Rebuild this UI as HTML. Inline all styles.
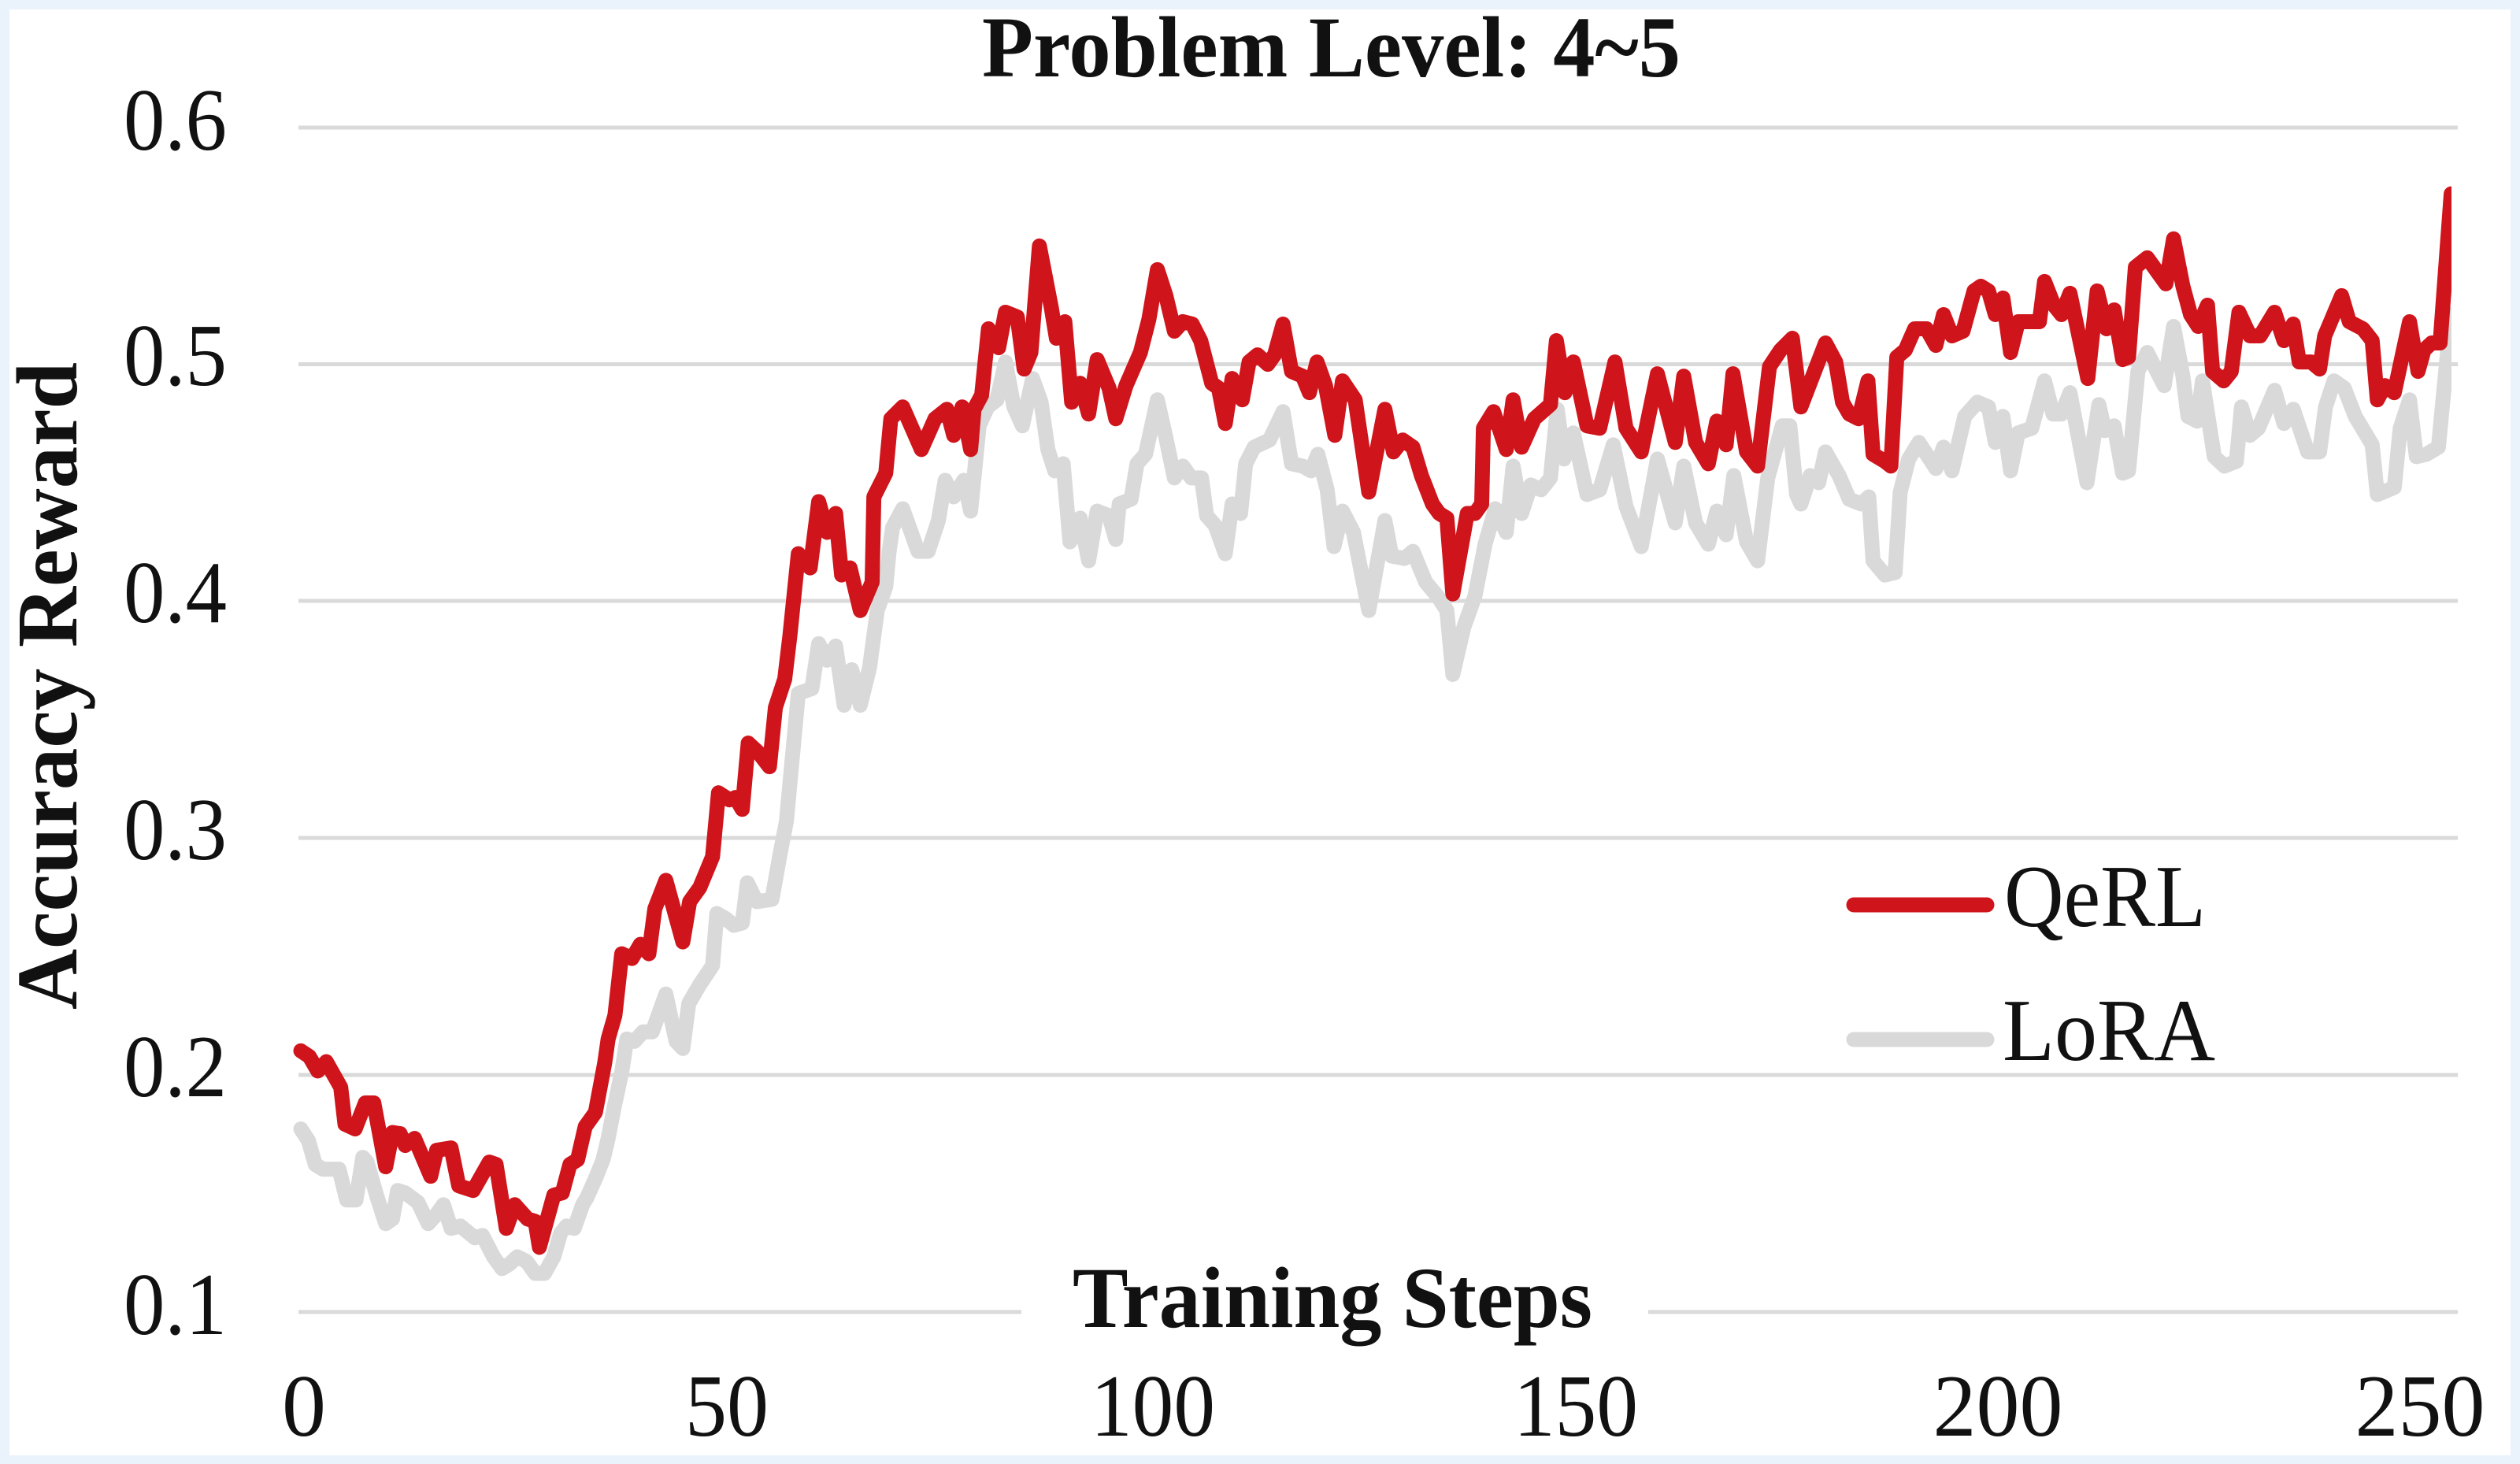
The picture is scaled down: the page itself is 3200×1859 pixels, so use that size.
<!DOCTYPE html>
<html>
<head>
<meta charset="utf-8">
<style>
  html, body { margin: 0; padding: 0; background: #eaf2fc; }
  body { width: 3200px; height: 1859px; overflow: hidden; }
  svg { display: block; }
  text { font-family: "Liberation Serif", "Times New Roman", serif; fill: #111; }
</style>
</head>
<body>
<svg width="3200" height="1859" viewBox="0 0 3200 1859" xmlns="http://www.w3.org/2000/svg">
  <defs>
    <clipPath id="plotclip">
      <rect x="0" y="0" width="3113" height="1859"/>
    </clipPath>
  </defs>
  <!-- frame -->
  <rect x="0" y="0" width="3200" height="1859" fill="#eaf2fc"/>
  <rect x="12" y="12" width="3176" height="1836" fill="#ffffff"/>

  <!-- gridlines -->
  <g stroke="#dadada" stroke-width="5" fill="none">
    <line x1="379" y1="162" x2="3121" y2="162"/>
    <line x1="379" y1="462.5" x2="3121" y2="462.5"/>
    <line x1="379" y1="763" x2="3121" y2="763"/>
    <line x1="379" y1="1064" x2="3121" y2="1064"/>
    <line x1="379" y1="1365" x2="3121" y2="1365"/>
    <line x1="379" y1="1666" x2="1297" y2="1666"/>
    <line x1="2093" y1="1666" x2="3121" y2="1666"/>
  </g>

  <!-- title -->
  <text x="1247" y="97" font-size="110" font-weight="bold" textLength="887" lengthAdjust="spacingAndGlyphs">Problem Level: 4~5</text>

  <!-- y axis label -->
  <text transform="translate(97 871) rotate(-90)" text-anchor="middle" font-size="110" font-weight="bold" textLength="822" lengthAdjust="spacingAndGlyphs">Accuracy Reward</text>

  <!-- y tick labels -->
  <g font-size="112">
    <text x="157" y="190" textLength="131" lengthAdjust="spacingAndGlyphs">0.6</text>
    <text x="157" y="489" textLength="131" lengthAdjust="spacingAndGlyphs">0.5</text>
    <text x="157" y="790" textLength="131" lengthAdjust="spacingAndGlyphs">0.4</text>
    <text x="157" y="1091" textLength="131" lengthAdjust="spacingAndGlyphs">0.3</text>
    <text x="157" y="1392" textLength="131" lengthAdjust="spacingAndGlyphs">0.2</text>
    <text x="157" y="1694" textLength="131" lengthAdjust="spacingAndGlyphs">0.1</text>
  </g>

  <!-- x tick labels -->
  <g font-size="112" text-anchor="middle">
    <text x="386" y="1823">0</text>
    <text x="923" y="1823" textLength="106" lengthAdjust="spacingAndGlyphs">50</text>
    <text x="1464" y="1823" textLength="158" lengthAdjust="spacingAndGlyphs">100</text>
    <text x="2001" y="1823" textLength="158" lengthAdjust="spacingAndGlyphs">150</text>
    <text x="2537" y="1823" textLength="165" lengthAdjust="spacingAndGlyphs">200</text>
    <text x="3073" y="1823" textLength="165" lengthAdjust="spacingAndGlyphs">250</text>
  </g>

  <!-- x axis label -->
  <text x="1692" y="1685" text-anchor="middle" font-size="110" font-weight="bold" textLength="660" lengthAdjust="spacingAndGlyphs">Training Steps</text>

  <!-- series -->
  <g clip-path="url(#plotclip)">
    <g transform="translate(382 1965.6) scale(10.78 -3006)">
      <polyline fill="none" stroke="#d9d9d9" stroke-width="19" vector-effect="non-scaling-stroke" stroke-linejoin="round" stroke-linecap="round"
        points="0,0.177 0.9,0.172 1.7,0.162 2.6,0.160 4.5,0.160 5.4,0.147 6.5,0.147 7.3,0.165 7.8,0.163 9,0.148 10,0.137 10.8,0.139 11.4,0.151 12.3,0.150 13.8,0.146 15,0.137 16,0.141 16.8,0.145 17.7,0.135 18.8,0.136 20.5,0.131 21.4,0.132 22.7,0.123 23.7,0.118 24.6,0.120 25.5,0.123 26.6,0.121 27.6,0.116 28.7,0.116 29.8,0.123 30.6,0.133 31.3,0.136 32.2,0.135 33.2,0.145 33.7,0.148 34.7,0.156 35.6,0.164 36.2,0.173 36.9,0.186 37.8,0.201 38.4,0.215 39.3,0.214 40.3,0.218 41.4,0.218 43,0.234 44.2,0.214 45,0.211 45.7,0.230 47,0.238 48.5,0.246 49,0.268 50,0.266 51,0.263 52,0.264 52.6,0.281 53.7,0.273 55.5,0.274 56.5,0.294 57.2,0.307 58.6,0.361 60.2,0.363 61,0.382 62,0.375 63,0.381 64,0.356 64.9,0.371 65.9,0.356 67,0.372 67.9,0.396 68.9,0.406 69.3,0.421 69.7,0.431 70.9,0.439 72.7,0.421 73.9,0.421 75.1,0.434 75.9,0.451 76.9,0.444 78.1,0.451 78.9,0.438 79.9,0.474 80.9,0.482 82,0.485 83,0.501 84,0.482 85,0.474 86.2,0.494 87.2,0.484 88,0.464 88.8,0.455 89.8,0.458 90.6,0.425 91.8,0.435 92.8,0.417 93.8,0.438 95.2,0.436 96,0.426 96.4,0.441 97.8,0.443 98.5,0.458 99.5,0.462 100.9,0.485 101.9,0.469 102.9,0.452 103.9,0.457 104.9,0.452 106.1,0.452 106.7,0.436 107.7,0.432 108.9,0.420 109.7,0.441 110.7,0.437 111.3,0.458 112.3,0.465 114.1,0.468 115.7,0.480 116.7,0.458 118,0.457 119,0.455 119.8,0.462 120.9,0.447 121.7,0.423 122.7,0.438 124,0.429 125.8,0.396 127.7,0.434 128.5,0.419 130,0.418 131,0.421 132.5,0.408 133.9,0.402 135,0.396 135.7,0.369 137,0.389 138.3,0.402 139.5,0.424 140.7,0.439 142,0.429 142.8,0.457 143.8,0.437 144.9,0.449 146.1,0.447 147.2,0.452 148,0.481 148.8,0.460 149.9,0.471 151.5,0.445 153,0.447 154.6,0.466 156.1,0.440 157.9,0.423 159.8,0.460 161.9,0.433 162.9,0.457 164.3,0.433 165.8,0.424 166.8,0.438 167.9,0.428 168.8,0.453 170.3,0.425 171.6,0.417 172.8,0.452 174.5,0.474 175.4,0.474 176.2,0.445 176.7,0.441 177.8,0.453 178.8,0.450 179.6,0.463 181.2,0.453 182.4,0.443 183.8,0.441 184.7,0.444 185.2,0.417 186.6,0.411 187.8,0.412 188.4,0.446 189.4,0.460 190.6,0.467 192.6,0.456 193.5,0.465 194.5,0.455 196,0.478 197.5,0.484 198.8,0.482 199.6,0.467 200.5,0.478 201.4,0.455 202.3,0.471 203.9,0.473 205.4,0.493 206.4,0.479 207.4,0.479 208.4,0.488 210.4,0.450 211.8,0.483 212.5,0.472 213.6,0.474 214.6,0.454 215.3,0.455 216.4,0.497 217.5,0.505 219.5,0.491 220.6,0.516 221.7,0.495 222.3,0.478 223.4,0.476 224,0.493 225.4,0.461 226.6,0.457 228,0.459 228.6,0.482 229.6,0.470 230.6,0.473 232.5,0.489 233.6,0.475 234.7,0.481 236.4,0.463 237.8,0.463 238.5,0.482 239.5,0.493 240.7,0.490 242,0.478 244,0.466 244.6,0.445 245.3,0.446 246.6,0.448 247.3,0.473 248.4,0.485 249.2,0.461 250.4,0.462 251.8,0.465 253.3,0.521"/>
      <polyline fill="none" stroke="#cf141b" stroke-width="19" vector-effect="non-scaling-stroke" stroke-linejoin="round" stroke-linecap="round"
        points="0,0.210 1,0.2076 2,0.2015 3,0.2054 4.7,0.1946 5.2,0.179 6.4,0.177 7.6,0.188 8.6,0.188 10,0.161 10.8,0.1755 11.7,0.175 12.3,0.170 13.4,0.173 15.3,0.157 16,0.168 17.7,0.169 18.6,0.153 20.3,0.151 22.2,0.163 23,0.162 24.2,0.135 25.2,0.145 26.7,0.139 27.6,0.138 28.1,0.127 29.8,0.149 30.8,0.150 31.7,0.162 32.6,0.164 33.5,0.178 34.7,0.184 35.8,0.205 36.2,0.215 37,0.225 37.8,0.251 39,0.249 40,0.255 41,0.251 41.7,0.270 43,0.282 45,0.256 45.8,0.273 47,0.279 48.5,0.292 49.2,0.319 50.5,0.316 51.2,0.317 52,0.312 52.7,0.340 53.9,0.336 55.2,0.330 55.9,0.355 57,0.367 57.6,0.385 58.6,0.420 60,0.414 61,0.442 62,0.429 63,0.437 63.7,0.411 64.7,0.414 65.9,0.396 67.3,0.408 67.5,0.444 68.9,0.454 69.5,0.477 70.9,0.482 73.1,0.464 74.7,0.477 76.1,0.481 76.9,0.470 77.9,0.482 78.9,0.464 79.3,0.481 80.2,0.487 81,0.515 82.2,0.507 83,0.522 84.4,0.520 85.2,0.498 86,0.505 87,0.550 88.4,0.524 89,0.511 90,0.518 90.8,0.484 91.8,0.492 92.8,0.479 93.8,0.502 95.2,0.490 96,0.477 97.2,0.491 98.9,0.505 99.9,0.519 100.9,0.540 101.9,0.529 102.9,0.514 103.9,0.518 105,0.517 106,0.510 107.3,0.492 108.1,0.490 108.9,0.475 109.7,0.494 110.9,0.485 111.7,0.501 112.7,0.504 113.9,0.500 114.7,0.504 115.7,0.517 116.7,0.497 118,0.495 118.8,0.488 119.7,0.501 120.7,0.491 121.8,0.470 122.7,0.493 124.2,0.485 125.8,0.446 127.7,0.481 128.7,0.463 129.8,0.468 131,0.465 132,0.453 133.3,0.441 134.1,0.437 135,0.435 135.7,0.403 137.4,0.437 138.3,0.437 139.1,0.441 139.3,0.473 140.5,0.480 142,0.464 142.8,0.485 143.8,0.465 145.3,0.477 147.2,0.483 147.9,0.510 148.9,0.488 149.9,0.501 151.5,0.474 153,0.473 154.8,0.501 156.1,0.473 157.9,0.463 159.8,0.496 161.9,0.467 162.9,0.495 164.3,0.467 165.8,0.458 166.8,0.476 167.9,0.466 168.7,0.496 170.3,0.463 171.6,0.457 173,0.499 174.3,0.506 175.7,0.511 176.7,0.482 178.2,0.496 179.6,0.509 180.8,0.501 181.6,0.484 182.4,0.479 183.5,0.477 184.6,0.493 185.2,0.462 186.6,0.459 187.3,0.457 188,0.503 189,0.506 190.1,0.515 191.5,0.515 192.6,0.508 193.5,0.521 194.5,0.512 195.8,0.514 197.1,0.531 197.9,0.533 198.8,0.531 199.6,0.521 200.5,0.528 201.4,0.505 202.3,0.518 204.8,0.518 205.4,0.535 206.5,0.525 207.4,0.521 208.4,0.530 210.5,0.494 211.6,0.531 212.7,0.515 213.6,0.523 214.6,0.502 215.3,0.503 216.1,0.541 217.5,0.545 219.7,0.534 220.6,0.553 221.7,0.533 222.6,0.521 223.5,0.516 224.6,0.525 225.2,0.497 226.5,0.493 227.4,0.497 228.3,0.522 229.6,0.512 230.8,0.512 232.5,0.522 233.6,0.510 234.7,0.517 235.4,0.501 236.8,0.501 237.8,0.498 238.4,0.512 240.4,0.529 241.3,0.518 242.9,0.515 244,0.510 244.6,0.485 245.5,0.491 246.6,0.488 248.4,0.518 249.4,0.497 250.1,0.506 251,0.509 252,0.509 253.3,0.572"/>
    </g>
  </g>

  <!-- legend -->
  <line x1="2354" y1="1149" x2="2523" y2="1149" stroke="#cf141b" stroke-width="19" stroke-linecap="round"/>
  <text x="2545" y="1176" font-size="112" textLength="256" lengthAdjust="spacingAndGlyphs">QeRL</text>
  <line x1="2354" y1="1320" x2="2523" y2="1320" stroke="#d9d9d9" stroke-width="19" stroke-linecap="round"/>
  <text x="2543" y="1346" font-size="112" textLength="270" lengthAdjust="spacingAndGlyphs">LoRA</text>
</svg>
</body>
</html>
